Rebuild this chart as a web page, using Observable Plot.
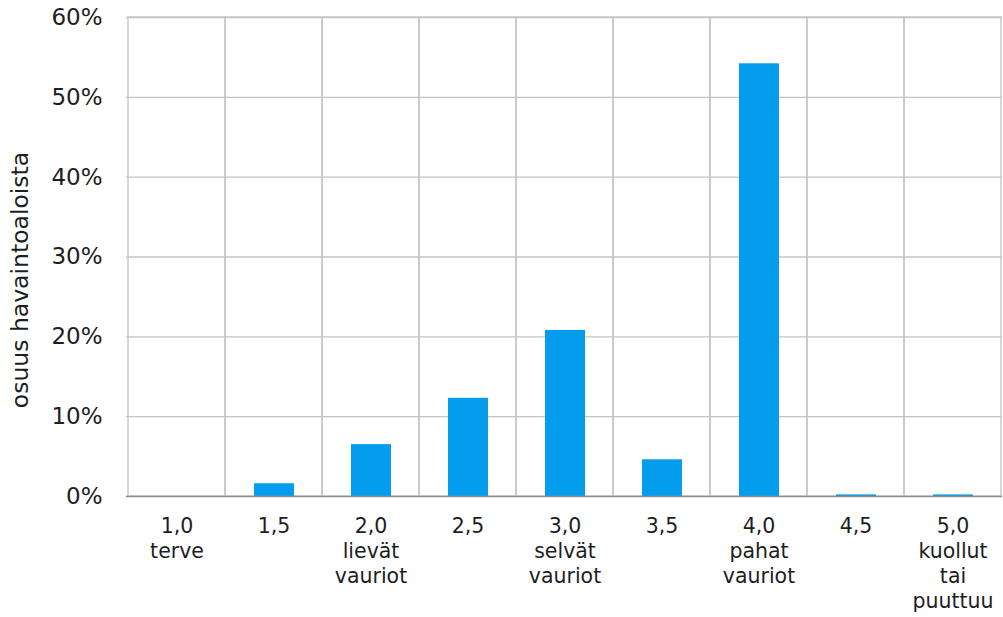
<!DOCTYPE html>
<html>
<head>
<meta charset="utf-8">
<script src="https://cdn.jsdelivr.net/npm/d3@7"></script>
<script src="https://cdn.jsdelivr.net/npm/@observablehq/plot@0.6"></script>
<style>
  html, body { margin: 0; padding: 0; background: #fff; }
  svg { display: block; }
</style>
</head>
<body>
<div id="chart"></div>
<script>
// Damage classes (1,0 … 5,0) with verbal descriptions for the whole steps
const classes = ["1,0", "1,5", "2,0", "2,5", "3,0", "3,5", "4,0", "4,5", "5,0"];
const descriptions = ["terve", "", "lievät\nvauriot", "", "selvät\nvauriot", "", "pahat\nvauriot", "", "kuollut\ntai\npuuttuu"];
// Share of observation plots in each class, percent
const shares = [0, 1.6, 6.5, 12.3, 20.8, 4.6, 54.2, 0.2, 0.2];
const yTicks = [0, 10, 20, 30, 40, 50, 60];
const yTitle = "osuus havaintoaloista";

const data = classes.map((c, i) => ({cls: c, share: shares[i]}));
const labelOf = new Map(classes.map((c, i) => [c, descriptions[i] ? c + "\n" + descriptions[i] : c]));

const ink = "#1e1e1e";
const grid = "#c4c4c4";

const chart = Plot.plot({
  width: 1003,
  height: 617,
  marginLeft: 126,
  marginRight: 1,
  marginTop: 17,
  marginBottom: 121,
  style: {fontFamily: "'DejaVu Sans', Verdana, sans-serif", color: ink, background: "#fff"},
  x: {domain: classes, padding: 0},
  y: {domain: [0, 60]},
  marks: [
    // horizontal grid
    Plot.ruleY(yTicks.filter(t => t > 0), {stroke: grid, strokeWidth: 1.3}),
    // vertical grid at category boundaries
    Plot.barY(classes, {x: d => d, y1: 0, y2: 60, fill: "none", stroke: grid, strokeWidth: 1.3}),
    Plot.barY(data, {x: "cls", y: "share", fill: "#049ced", insetLeft: 29, insetRight: 28}),
    Plot.ruleY([0], {stroke: "#8c8c8c", strokeWidth: 1.5}),
    Plot.axisY({
      ticks: yTicks,
      tickSize: 0,
      tickPadding: 24,
      tickFormat: d => d + "%",
      fontSize: 23,
      label: null
    }),
    // rotated y-axis title, set a little below the frame's middle
    Plot.text([yTitle], {
      frameAnchor: "left",
      text: d => d,
      rotate: -90,
      dx: -106,
      dy: 23,
      fontSize: 23.5,
      textAnchor: "middle",
      lineAnchor: "middle",
      fill: ink
    }),
    Plot.axisX({
      tickSize: 0,
      tickPadding: 19,
      tickFormat: d => labelOf.get(d),
      fontSize: 20.5,
      lineHeight: 1.22,
      label: null
    })
  ]
});

chart.querySelectorAll("text").forEach(t => t.setAttribute("fill", ink));
document.getElementById("chart").appendChild(chart);
</script>
</body>
</html>
